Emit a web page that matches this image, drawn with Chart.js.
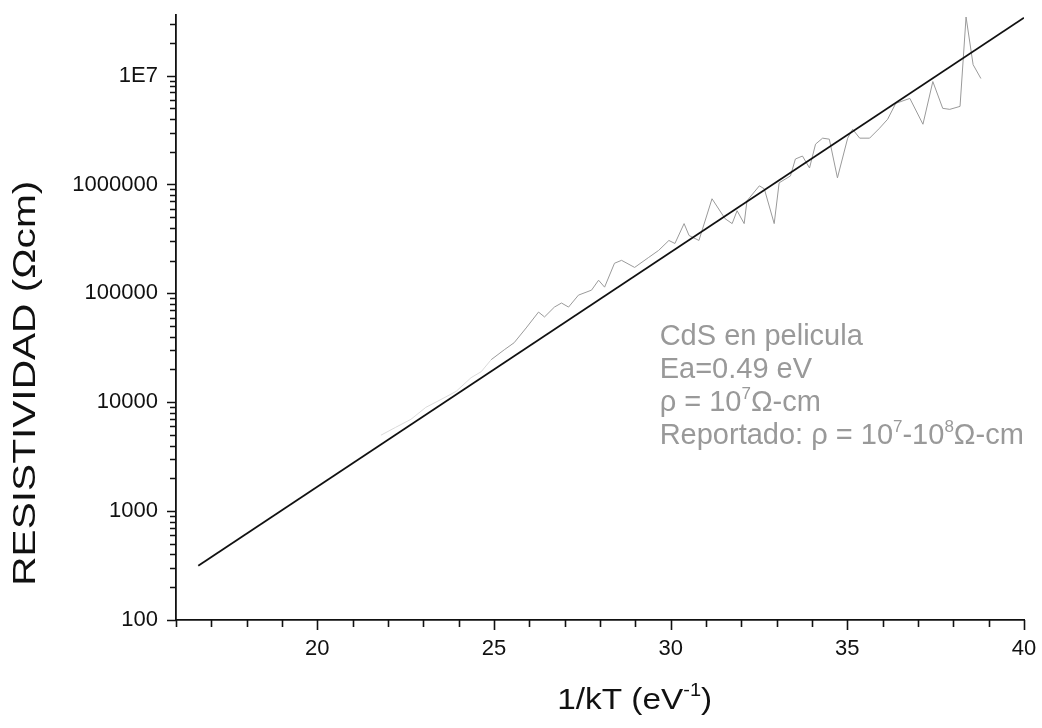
<!DOCTYPE html>
<html>
<head>
<meta charset="utf-8">
<script src="https://cdn.jsdelivr.net/npm/chart.js@4.4.0/dist/chart.umd.min.js"></script>
<style>
  body { margin: 0; background: #fff; }
  #wrap { width: 1042px; height: 728px; }
</style>
</head>
<body>
<div id="wrap"><canvas id="resChart"></canvas></div>
<script>
// measured resistivity (faint low-T tail, then the visible noisy trace)
const faintX = [21.80, 22.22, 22.65, 23.07, 23.50, 23.93, 24.35, 24.64, 24.92];
const faintY = [4980, 5890, 6970, 8970, 10600, 12600, 16800, 19100, 24600];

const resX = [24.92, 25.29, 25.57, 25.91, 26.26, 26.43, 26.71, 26.91, 27.11, 27.39,
  27.76, 27.96, 28.13, 28.41, 28.61, 28.98, 29.38, 29.66, 29.95, 30.12,
  30.38, 30.52, 30.80, 31.17, 31.54, 31.74, 31.88, 32.08, 32.16, 32.51,
  32.65, 32.93, 33.07, 33.39, 33.53, 33.73, 33.93, 34.10, 34.30, 34.49,
  34.72, 35.01, 35.15, 35.35, 35.63, 35.91, 36.14, 36.37, 36.77, 37.14,
  37.42, 37.70, 37.90, 38.19, 38.36, 38.56, 38.78];
const resY = [24600, 30300, 35200, 48100, 67300, 60700, 74800, 81500, 74800, 96300,
  107000, 132000, 114000, 189000, 201000, 173000, 214000, 248000, 306000, 287000,
  437000, 340000, 306000, 739000, 485000, 437000, 574000, 437000, 708000, 971000,
  912000, 437000, 1035000, 1197000, 1713000, 1824000, 1417000, 2346000, 2662000, 2606000,
  1149000, 2662000, 3215000, 2662000, 2662000, 3283000, 3969000, 5556000, 6170000, 3573000,
  8815000, 5000000, 4895000, 5213000, 34500000, 12590000, 9397000];

// Arrhenius fit line
const fitX = [16.63, 40];
const fitY = [315, 34000000];

const xTickValues = [20, 25, 30, 35, 40];
const yDecades = [100, 1000, 10000, 100000, 1000000, 10000000];
const yDecadeLabels = ['100', '1000', '10000', '100000', '1000000', '1E7'];

// '^' marks a superscript piece
const yTitle = 'RESISTIVIDAD (Ωcm)';
const xTitle = ['1/kT (eV', '^-1', ')'];
const noteLines = [
  ['CdS en pelicula'],
  ['Ea=0.49 eV'],
  ['ρ = 10', '^7', 'Ω-cm'],
  ['Reportado: ρ = 10', '^7', '-10', '^8', 'Ω-cm']
];

const FONT = '"Liberation Sans", Arial, sans-serif';
const toPoints = (xs, ys) => xs.map((x, i) => ({ x: x, y: ys[i] }));

function drawParts(ctx, parts, x, y, size) {
  let cx = x;
  parts.forEach(p => {
    const sup = p.startsWith('^');
    const t = sup ? p.slice(1) : p;
    ctx.font = (sup ? Math.round(size * 0.6) : size) + 'px ' + FONT;
    ctx.fillText(t, cx, sup ? y - size * 0.42 : y);
    cx += ctx.measureText(t).width;
  });
  return cx - x;
}

function partsWidth(ctx, parts, size) {
  let w = 0;
  parts.forEach(p => {
    const sup = p.startsWith('^');
    const t = sup ? p.slice(1) : p;
    ctx.font = (sup ? Math.round(size * 0.6) : size) + 'px ' + FONT;
    w += ctx.measureText(t).width;
  });
  return w;
}

// tick marks (outside, major longer), axis titles and the note
const decorPlugin = {
  id: 'decor',
  afterDraw(chart) {
    const ctx = chart.ctx;
    const xs = chart.scales.x;
    const ys = chart.scales.y;
    const area = chart.chartArea;
    ctx.save();
    ctx.strokeStyle = '#111';
    ctx.lineWidth = 1.6;
    ctx.beginPath();
    for (let v = 16; v <= 40; v++) {
      const px = Math.round(xs.getPixelForValue(v)) + 0.5;
      const len = xTickValues.includes(v) ? 10 : 7;
      ctx.moveTo(px, area.bottom);
      ctx.lineTo(px, area.bottom + len);
    }
    yDecades.forEach(d => {
      for (let m = 1; m <= 9; m++) {
        const val = d * m;
        if (val > ys.max) break;
        const py = Math.round(ys.getPixelForValue(val)) + 0.5;
        const len = m === 1 ? 9 : 6;
        ctx.moveTo(area.left, py);
        ctx.lineTo(area.left - len, py);
      }
    });
    ctx.stroke();

    // y title, rotated
    ctx.fillStyle = '#111';
    ctx.textBaseline = 'middle';
    ctx.textAlign = 'center';
    ctx.font = '32px ' + FONT;
    const yw = ctx.measureText(yTitle).width;
    ctx.save();
    ctx.translate(26, ys.getPixelForValue(10000) - 19);
    ctx.rotate(-Math.PI / 2);
    ctx.scale(405 / yw, 1);
    ctx.fillText(yTitle, 0, 0);
    ctx.restore();

    // x title
    ctx.textAlign = 'left';
    ctx.textBaseline = 'alphabetic';
    const xw = partsWidth(ctx, xTitle, 30);
    ctx.save();
    ctx.translate(xs.getPixelForValue(30) - 36, area.bottom + 89);
    ctx.scale(155 / xw, 1);
    drawParts(ctx, xTitle, -xw / 2, 0, 30);
    ctx.restore();

    // note
    ctx.fillStyle = '#999';
    const nx = xs.getPixelForValue(30) - 11;
    noteLines.forEach((parts, i) => {
      drawParts(ctx, parts, nx, ys.getPixelForValue(100000) + 52 + i * 33, 29);
    });
    ctx.restore();
  }
};

const chart = new Chart(document.getElementById('resChart'), {
  type: 'line',
  data: {
    datasets: [
      {
        label: 'ajuste',
        data: toPoints(fitX, fitY),
        borderColor: '#111',
        borderWidth: 1.8,
        pointRadius: 0,
        tension: 0
      },
      {
        label: 'medida',
        data: toPoints(resX, resY),
        borderColor: '#9a9a9a',
        borderWidth: 1,
        pointRadius: 0,
        tension: 0
      },
      {
        label: 'medida (tenue)',
        data: toPoints(faintX, faintY),
        borderColor: '#dadada',
        borderWidth: 1,
        pointRadius: 0,
        tension: 0
      }
    ]
  },
  options: {
    responsive: true,
    maintainAspectRatio: false,
    animation: false,
    layout: { padding: { left: 0, right: 18, top: 15, bottom: 0 } },
    plugins: {
      legend: { display: false },
      tooltip: { enabled: false }
    },
    scales: {
      x: {
        type: 'linear',
        min: 16,
        max: 40,
        grid: { display: false, drawTicks: false },
        border: { display: true, color: '#111', width: 1.8 },
        ticks: {
          stepSize: 1,
          autoSkip: false,
          maxRotation: 0,
          padding: 16,
          color: '#111',
          font: { family: FONT, size: 22 },
          callback: v => (xTickValues.includes(v) ? String(v) : '')
        },
        afterFit(s) {
          s.height = 108;
          s.paddingLeft = 0;
          s.paddingRight = 0;
        }
      },
      y: {
        type: 'logarithmic',
        min: 100,
        max: 36000000,
        grid: { display: false, drawTicks: false },
        border: { display: true, color: '#111', width: 1.8 },
        ticks: {
          autoSkip: false,
          padding: 18,
          color: '#111',
          font: { family: FONT, size: 22 },
          callback: v => {
            const i = yDecades.indexOf(v);
            return i >= 0 ? yDecadeLabels[i] : '';
          }
        },
        afterFit(s) {
          s.width = 176;
          s.paddingTop = 0;
          s.paddingBottom = 0;
        }
      }
    }
  },
  plugins: [decorPlugin]
});
</script>
</body>
</html>
